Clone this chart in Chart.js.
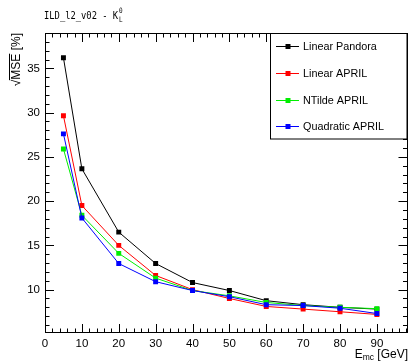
<!DOCTYPE html>
<html><head><meta charset="utf-8">
<script src="https://cdn.jsdelivr.net/npm/chart.js@4/dist/chart.umd.min.js"></script>
<style>html,body{margin:0;padding:0;background:#fff;}canvas{display:block;}</style>
</head><body>
<canvas id="c" width="411" height="363"></canvas>
<script>
const energies = [5, 10, 20, 30, 40, 50, 60, 70, 80, 90];
const linearPandora = [36.2, 23.65, 16.5, 12.95, 10.8, 9.9, 8.75, 8.3, 8.0, 7.8];
const linearApril = [29.65, 19.5, 15.0, 11.6, 10.0, 9.0, 8.1, 7.8, 7.5, 7.2];
const ntildeApril = [25.9, 18.4, 14.1, 11.3, 9.9, 9.3, 8.55, 8.2, 8.0, 7.85];
const quadraticApril = [27.6, 18.1, 12.95, 10.9, 9.9, 9.2, 8.3, 8.2, 7.9, 7.3];
const seriesNames = ["Linear Pandora", "Linear APRIL", "NTilde APRIL", "Quadratic APRIL"];
const seriesColors = ["#000000", "#ff0000", "#00ee00", "#0000ff"];
const xTickLabels = [0, 10, 20, 30, 40, 50, 60, 70, 80, 90];
const yTickLabels = [10, 15, 20, 25, 30, 35];

const allSeries = [linearPandora, linearApril, ntildeApril, quadraticApril];
const datasets = allSeries.map((vals, i) => ({
  label: seriesNames[i],
  data: energies.map((e, j) => ({x: e, y: vals[j]})),
  borderColor: seriesColors[i],
  backgroundColor: seriesColors[i],
  borderWidth: 1,
  pointStyle: 'rect',
  pointRadius: 3.5,
  pointHoverRadius: 3.5,
  pointBorderWidth: 0,
  tension: 0,
  order: 3 - i
}));

const FONT = "'Liberation Sans', Arial, sans-serif";

const decor = {
  id: 'decor',
  afterDatasetsDraw(chart) {
    const ctx = chart.ctx;
    const a = chart.chartArea;
    const xs = chart.scales.x, ys = chart.scales.y;
    ctx.save();
    ctx.strokeStyle = '#000';
    ctx.lineWidth = 1;
    // frame
    ctx.strokeRect(Math.round(a.left) + 0.5, Math.round(a.top) + 0.5,
                   Math.round(a.right - a.left) - 1, Math.round(a.bottom - a.top) - 1);
    ctx.beginPath();
    // x ticks (major every 10, minor every 2)
    for (let v = 0; v <= xs.max + 1e-6; v += 2) {
      const px = Math.round(xs.getPixelForValue(v)) + 0.5;
      const len = (Math.abs(v % 10) < 1e-6) ? 9 : 4.5;
      ctx.moveTo(px, a.bottom); ctx.lineTo(px, a.bottom - len);
      ctx.moveTo(px, a.top); ctx.lineTo(px, a.top + len);
    }
    // y ticks (major every 5, minor every 1)
    for (let v = 6; v <= ys.max + 1e-6; v += 1) {
      const py = Math.round(ys.getPixelForValue(v)) + 0.5;
      const len = (v % 5 === 0) ? 9 : 4.5;
      ctx.moveTo(a.left, py); ctx.lineTo(a.left + len, py);
      ctx.moveTo(a.right, py); ctx.lineTo(a.right - len, py);
    }
    ctx.stroke();

    // legend
    const lx = 270.5, ly = 33.5, lw = 136.5, lh = 105.5;
    ctx.fillStyle = '#fff';
    ctx.fillRect(lx, ly, lw, lh);
    ctx.strokeRect(lx, ly, lw, lh);
    const rows = [45.7, 72.7, 100.3, 126];
    ctx.font = '10.8px ' + FONT;
    ctx.textBaseline = 'middle';
    ctx.textAlign = 'left';
    chart.data.datasets.forEach((ds, i) => {
      const y = Math.round(rows[i]) + 0.5;
      ctx.strokeStyle = ds.borderColor;
      ctx.beginPath(); ctx.moveTo(276, y); ctx.lineTo(299, y); ctx.stroke();
      ctx.fillStyle = ds.borderColor;
      ctx.fillRect(285.5, y - 2.5, 5, 5);
      ctx.fillStyle = '#000';
      ctx.fillText(ds.label, 303, y + 0.5);
    });

    // title
    ctx.fillStyle = '#000';
    ctx.textBaseline = 'alphabetic';
    ctx.save();
    ctx.translate(44, 19);
    ctx.scale(1, 1.25);
    ctx.font = "8.8px 'DejaVu Sans Mono', 'Liberation Mono', monospace";
    ctx.fillText('ILD_l2_v02 - K', 0, 0);
    ctx.font = "6px 'DejaVu Sans Mono', 'Liberation Mono', monospace";
    ctx.fillText('0', 75, -4.5);
    ctx.fillText('L', 75, 2);
    ctx.restore();

    // x axis title
    ctx.textAlign = 'left';
    const part3 = ' [GeV]';
    ctx.font = '12px ' + FONT;
    const w3 = ctx.measureText(part3).width;
    ctx.font = '8.5px ' + FONT;
    const w2 = ctx.measureText('mc').width;
    ctx.font = '12px ' + FONT;
    const w1 = ctx.measureText('E').width;
    let xx = 408 - (w1 + w2 + w3);
    ctx.fillText('E', xx, 358);
    ctx.font = '8.5px ' + FONT;
    ctx.fillText('mc', xx + w1, 360);
    ctx.font = '12px ' + FONT;
    ctx.fillText(part3, xx + w1 + w2, 358);

    // y axis title (rotated)
    ctx.save();
    ctx.translate(20, 33);
    ctx.rotate(-Math.PI / 2);
    ctx.font = '12px ' + FONT;
    ctx.textAlign = 'left';
    const t1 = '\u221A', t2 = 'MSE', t3 = ' [%]';
    const tw1 = ctx.measureText(t1).width, tw2 = ctx.measureText(t2).width, tw3 = ctx.measureText(t3).width;
    const start = -(tw1 + tw2 + tw3);
    ctx.fillText(t1, start, 0);
    ctx.fillText(t2, start + tw1, 0);
    ctx.fillText(t3, start + tw1 + tw2, 0);
    ctx.strokeStyle = '#000';
    ctx.beginPath();
    ctx.moveTo(start + tw1 - 0.5, -10.5);
    ctx.lineTo(start + tw1 + tw2, -10.5);
    ctx.stroke();
    ctx.restore();

    ctx.restore();
  }
};

new Chart(document.getElementById('c'), {
  type: 'line',
  data: { datasets },
  options: {
    responsive: false,
    animation: false,
    events: [],
    layout: { padding: { top: 33, right: 3, left: 0, bottom: 0 } },
    plugins: { legend: { display: false }, tooltip: { enabled: false }, title: { display: false } },
    scales: {
      x: {
        type: 'linear', min: 0, max: 98.3,
        grid: { display: false, drawTicks: false },
        border: { display: false },
        afterFit(s) { s.height = 30; },
        afterBuildTicks(s) { s.ticks = xTickLabels.map(v => ({ value: v })); },
        ticks: { color: '#000', padding: 4, font: { family: FONT, size: 11.5 }, maxRotation: 0, autoSkip: false,
                 callback: v => String(v) }
      },
      y: {
        type: 'linear', min: 5.1, max: 39,
        grid: { display: false, drawTicks: false },
        border: { display: false },
        afterFit(s) { s.width = 45; },
        afterBuildTicks(s) { s.ticks = yTickLabels.map(v => ({ value: v })); },
        ticks: { color: '#000', padding: 5, font: { family: FONT, size: 11.5 }, autoSkip: false,
                 callback: v => String(v) }
      }
    }
  },
  plugins: [decor]
});
</script>
</body></html>
